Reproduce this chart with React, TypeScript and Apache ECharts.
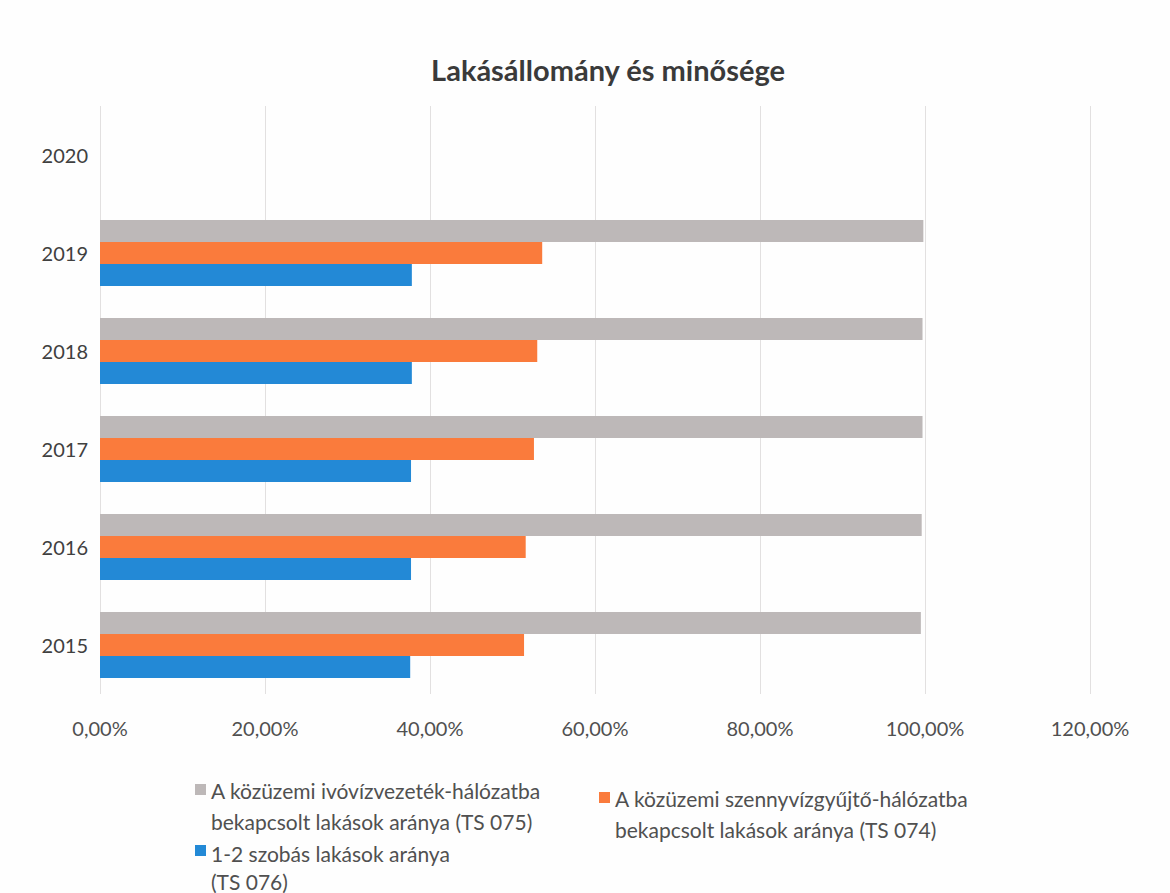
import React, { useEffect, useRef } from "react";
import * as echarts from "echarts";

const years = ["2015", "2016", "2017", "2018", "2019", "2020"];
const waterShare = [99.5, 99.6, 99.7, 99.7, 99.8, null];
const sewerShare = [51.4, 51.6, 52.6, 53.0, 53.6, null];
const smallFlatShare = [37.6, 37.7, 37.7, 37.8, 37.8, null];
const xTicks = [0, 20, 40, 60, 80, 100, 120];

const nameWater = "A közüzemi ivóvízvezeték-hálózatba\nbekapcsolt lakások aránya (TS 075)";
const nameSewer = "A közüzemi szennyvízgyűjtő-hálózatba\nbekapcsolt lakások aránya (TS 074)";
const nameSmall = "1-2 szobás lakások aránya\n(TS 076)";

const FONT = "Lato, 'Open Sans', sans-serif";
const TOP_ICON = "path://M0,0H10V10H0Z M0,39.9H0.1V40H0Z";

export default function App() {
  const ref = useRef<HTMLDivElement>(null);
  useEffect(() => {
    if (!ref.current) return;
    const chart = echarts.init(ref.current, undefined, { renderer: "svg" });
    const legendText = { fontSize: 21, color: "#505050", fontFamily: FONT, lineHeight: 31 };
    const legendBase = {
      itemWidth: 11,
      itemHeight: 44,
      icon: TOP_ICON,
      itemGap: 6,
      textStyle: legendText,
      selectedMode: false,
    };
    chart.setOption({
      animation: false,
      backgroundColor: "#fefefe",
      title: {
        text: "Lakásállomány és minősége",
        left: 603,
        top: 50,
        textAlign: "center",
        textStyle: { fontSize: 29, fontWeight: "bold", color: "#3a3a3a", fontFamily: FONT },
      },
      grid: { left: 100, right: 80, top: 106, bottom: 199, containLabel: false },
      legend: [
        { ...legendBase, data: [nameWater], left: 190, top: 770 },
        { ...legendBase, data: [nameSewer], left: 594, top: 778 },
        {
          ...legendBase,
          data: [nameSmall],
          left: 190,
          top: 834,
          textStyle: { ...legendText, lineHeight: 28 },
        },
      ],
      xAxis: {
        type: "value",
        min: xTicks[0],
        max: xTicks[xTicks.length - 1],
        interval: 20,
        axisLine: { show: false },
        axisTick: { show: false },
        splitLine: { lineStyle: { color: "#e2e0e0", width: 1 } },
        axisLabel: {
          margin: 24,
          fontSize: 20,
          color: "#505050",
          fontFamily: FONT,
          formatter: (v: number) => v.toFixed(2).replace(".", ",") + "%",
        },
      },
      yAxis: {
        type: "category",
        data: years,
        axisLine: { show: false },
        axisTick: { show: false },
        axisLabel: { margin: 12, fontSize: 20, color: "#404040", fontFamily: FONT },
      },
      series: [
        {
          name: nameWater,
          type: "bar",
          data: waterShare,
          barWidth: 22,
          barGap: "0%",
          itemStyle: { color: "#bdb8b8" },
        },
        {
          name: nameSewer,
          type: "bar",
          data: sewerShare,
          barWidth: 22,
          barGap: "0%",
          itemStyle: { color: "#fa7b3c" },
        },
        {
          name: nameSmall,
          type: "bar",
          data: smallFlatShare,
          barWidth: 22,
          barGap: "0%",
          itemStyle: { color: "#2389d6" },
        },
      ],
    });
    return () => chart.dispose();
  }, []);
  return (
    <div
      ref={ref}
      style={{ position: "absolute", left: 0, top: 0, width: 1170, height: 893 }}
    />
  );
}
